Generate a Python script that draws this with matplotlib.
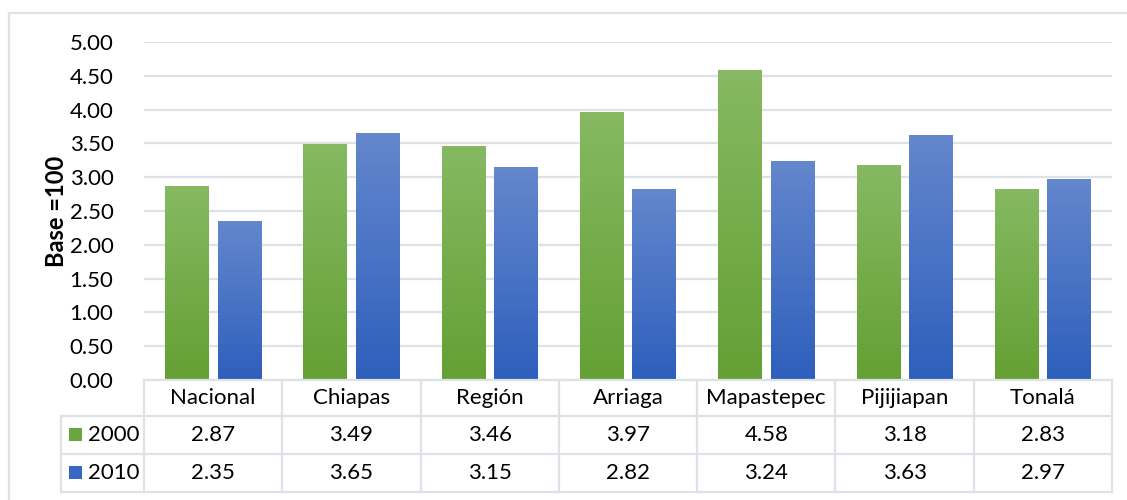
import numpy as np
import matplotlib
matplotlib.use("Agg")
import matplotlib.pyplot as plt
from matplotlib.colors import LinearSegmentedColormap
from matplotlib.patches import Rectangle
from matplotlib.lines import Line2D

categories = ["Nacional", "Chiapas", "Región", "Arriaga", "Mapastepec", "Pijijiapan", "Tonalá"]
series_names = ["2000", "2010"]
values_2000 = [2.87, 3.49, 3.46, 3.97, 4.58, 3.18, 2.83]
values_2010 = [2.35, 3.65, 3.15, 2.82, 3.24, 3.63, 2.97]
y_ticks = [0.0, 0.5, 1.0, 1.5, 2.0, 2.5, 3.0, 3.5, 4.0, 4.5, 5.0]

plt.rcParams["font.family"] = ["Lato", "DejaVu Sans"]
FS = 16

W, H = 1127, 500
fig = plt.figure(figsize=(W / 100, H / 100), dpi=100)

def fx(px):
    return px / W

def fy(py):
    return 1 - py / H

# plot area in pixel coordinates
x0, x1 = 144, 1112
y_top, y_bot = 42, 380
ax = fig.add_axes([fx(x0), fy(y_bot), fx(x1) - fx(x0), fy(y_top) - fy(y_bot)])
n = len(categories)
ax.set_xlim(0, n)
ax.set_ylim(0, 5.0)
ax.set_yticks(y_ticks)
ax.set_yticklabels([f"{t:.2f}" for t in y_ticks], fontsize=FS, color="#000000")
ax.tick_params(axis="y", length=0, pad=22)
ax.set_xticks([])
for s in ax.spines.values():
    s.set_visible(False)
ax.grid(axis="y", color="#DDE1E8", linewidth=1.6)
ax.set_axisbelow(True)

# axis title
fig.text(fx(57), fy(211), "Base =100", rotation=90, ha="center", va="center",
         fontsize=17, fontweight="bold")

green = LinearSegmentedColormap.from_list("g", ["#64A034", "#86B962"])
blue = LinearSegmentedColormap.from_list("b", ["#2E5FBC", "#6487CD"])

bar_w = 0.315
offset = 0.19
grad = np.linspace(0, 1, 256).reshape(-1, 1)
for i in range(n):
    for vals, cmap, sign in ((values_2000, green, -1), (values_2010, blue, 1)):
        xc = i + 0.5 + sign * offset
        left = xc - bar_w / 2
        v = vals[i]
        im = ax.imshow(grad, cmap=cmap, origin="lower", aspect="auto",
                       extent=(left, left + bar_w, 0, v), zorder=2)
        rect = Rectangle((left, 0), bar_w, v, transform=ax.transData,
                         facecolor="none", edgecolor="none")
        ax.add_patch(rect)
        im.set_clip_path(rect)
ax.set_xlim(0, n)
ax.set_ylim(0, 5.0)

# data table beneath the axis
line_c = "#DDE1E8"
lw = 1.6
rows_y = [380, 416, 454, 492]
leg_x = 61
cell_w = (x1 - x0) / n

def hline(xa, xb, yy):
    fig.add_artist(Line2D([fx(xa), fx(xb)], [fy(yy), fy(yy)], color=line_c, lw=lw))

def vline(xx, ya, yb):
    fig.add_artist(Line2D([fx(xx), fx(xx)], [fy(ya), fy(yb)], color=line_c, lw=lw))

hline(x0, x1, rows_y[0])
for yy in rows_y[1:]:
    hline(leg_x, x1, yy)
vline(leg_x, rows_y[1], rows_y[3])
for i in range(n + 1):
    vline(x0 + i * cell_w, rows_y[0], rows_y[3])

for i, c in enumerate(categories):
    cx = x0 + (i + 0.5) * cell_w
    fig.text(fx(cx), fy((rows_y[0] + rows_y[1]) / 2), c, ha="center", va="center", fontsize=FS)
    fig.text(fx(cx), fy((rows_y[1] + rows_y[2]) / 2), f"{values_2000[i]:.2f}", ha="center", va="center", fontsize=FS)
    fig.text(fx(cx), fy((rows_y[2] + rows_y[3]) / 2), f"{values_2010[i]:.2f}", ha="center", va="center", fontsize=FS)

# legend keys in the first column
for k, (name, col) in enumerate(zip(series_names, ["#6BA540", "#3767C2"])):
    yc = (rows_y[k + 1] + rows_y[k + 2]) / 2
    fig.add_artist(Rectangle((fx(69), fy(yc + 6)), fx(13), fy(0) - fy(13), facecolor=col,
                             edgecolor="none", transform=fig.transFigure))
    fig.text(fx(88), fy(yc), name, ha="left", va="center", fontsize=FS)

# chart frame
fig.add_artist(Line2D([fx(8.5), fx(8.5)], [fy(H + 5), fy(12.5)], color=line_c, lw=1.6))
fig.add_artist(Line2D([fx(8.5), fx(W + 5)], [fy(12.5), fy(12.5)], color=line_c, lw=1.6))

fig.savefig("out.png", dpi=100, facecolor="white")
